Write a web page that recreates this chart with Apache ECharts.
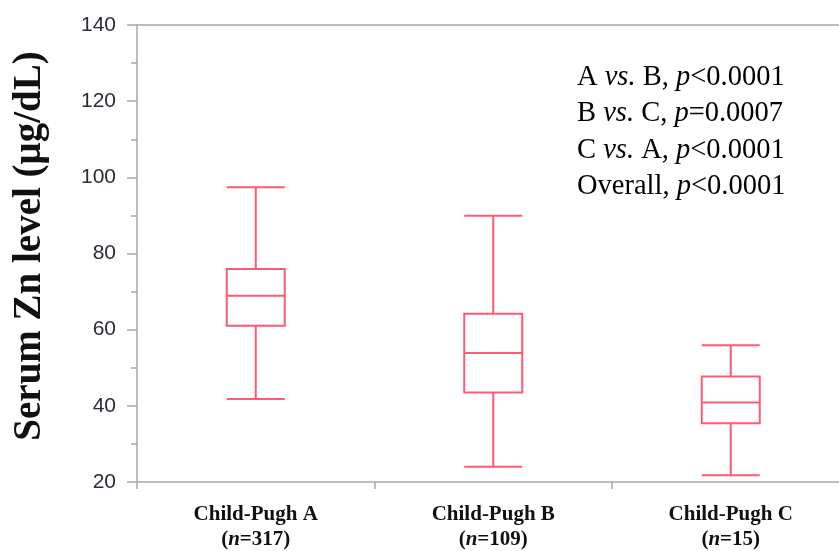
<!DOCTYPE html>
<html>
<head>
<meta charset="utf-8">
<script src="https://cdn.jsdelivr.net/npm/echarts@6/dist/echarts.min.js"></script>
<style>
  html, body { margin: 0; padding: 0; background: #fff; }
  #chart { width: 839px; height: 551px; }
</style>
</head>
<body>
<div id="chart"></div>
<script>
// Serum zinc by Child-Pugh class: [min, Q1, median, Q3, max]
const groups = ['Child-Pugh A', 'Child-Pugh B', 'Child-Pugh C'];
const sampleSizes = [317, 109, 15];
const boxStats = [
  [41.8, 61.0, 68.9, 75.9, 97.4],
  [24.0, 43.5, 53.9, 64.2, 89.9],
  [21.8, 35.4, 40.9, 47.7, 55.9]
];
const yTicks = { min: 20, max: 140, interval: 20 };
const yTitle = 'Serum Zn level (μg/dL)';
const pValueLines = [
  ['A ', 'vs.', ' B, ', 'p', '<0.0001'],
  ['B ', 'vs.', ' C, ', 'p', '=0.0007'],
  ['C ', 'vs.', ' A, ', 'p', '<0.0001'],
  ['Overall, ', '', '', 'p', '<0.0001']
];

const SERIF = "'Liberation Serif', 'DejaVu Serif', serif";
const BOX_COLOR = '#ff5a73';
const AXIS_COLOR = '#a8a8a8';

const chart = echarts.init(document.getElementById('chart'), null, { renderer: 'canvas' });

// Rich-text block with italic "vs." and "p"
const pText = pValueLines.map(function (p) {
  let s = '{r|' + p[0] + '}';
  if (p[1]) s += '{i|' + p[1] + '}';
  if (p[2]) s += '{r|' + p[2] + '}';
  s += '{i|' + p[3] + '}{r|' + p[4] + '}';
  return s;
}).join('\n');

chart.setOption({
  animation: false,
  backgroundColor: '#fff',
  grid: {
    left: 137, right: -10.5, top: 25, bottom: 69,
    outerBoundsMode: 'none',
    containLabel: false
  },
  xAxis: [{
    type: 'category',
    data: groups,
    boundaryGap: true,
    axisLine: { lineStyle: { color: AXIS_COLOR, width: 1.5 } },
    axisTick: { show: true, length: 7, lineStyle: { color: AXIS_COLOR, width: 1.5 } },
    axisLabel: {
      margin: 20,
      formatter: function (value, idx) {
        return '{b|' + value + '}\n{b|(}{bi|n}{b|=' + sampleSizes[idx] + ')}';
      },
      rich: {
        b: { fontFamily: SERIF, fontWeight: 'bold', fontSize: 21, color: '#111', lineHeight: 25 },
        bi: { fontFamily: SERIF, fontWeight: 'bold', fontStyle: 'italic', fontSize: 21, color: '#111', lineHeight: 25 }
      }
    },
    splitLine: { show: false }
  }, {
    // top frame line
    type: 'category',
    data: groups,
    position: 'top',
    axisLine: { show: true, lineStyle: { color: AXIS_COLOR, width: 1.5 } },
    axisTick: { show: false },
    axisLabel: { show: false },
    splitLine: { show: false }
  }],
  yAxis: {
    type: 'value',
    min: yTicks.min, max: yTicks.max, interval: yTicks.interval,
    axisLine: { show: true, lineStyle: { color: AXIS_COLOR, width: 1.5 } },
    axisTick: { show: true, length: 10, lineStyle: { color: AXIS_COLOR, width: 1.5 } },
    minorTick: { show: true, splitNumber: 2, length: 6, lineStyle: { color: AXIS_COLOR, width: 1.5 } },
    axisLabel: { fontFamily: "'Liberation Sans', Arial, sans-serif", fontSize: 21, color: '#2b2b3a', margin: 21 },
    splitLine: { show: false }
  },
  series: [{
    type: 'boxplot',
    data: boxStats,
    boxWidth: [58, 58],
    itemStyle: { color: '#fff', borderColor: BOX_COLOR, borderWidth: 2 },
    emphasis: { disabled: true }
  }],
  graphic: [{
    type: 'text',
    x: 30, y: 246,
    rotation: Math.PI / 2,
    style: {
      text: yTitle,
      fontFamily: SERIF, fontWeight: 'bold', fontSize: 39, fill: '#111',
      align: 'center', verticalAlign: 'middle'
    }
  }, {
    type: 'text',
    left: 577, top: 63,
    style: {
      text: pText,
      rich: {
        r: { fontFamily: SERIF, fontSize: 28.5, color: '#111', lineHeight: 36.5 },
        i: { fontFamily: SERIF, fontStyle: 'italic', fontSize: 28.5, color: '#111', lineHeight: 36.5 }
      }
    }
  }]
});
</script>
</body>
</html>
